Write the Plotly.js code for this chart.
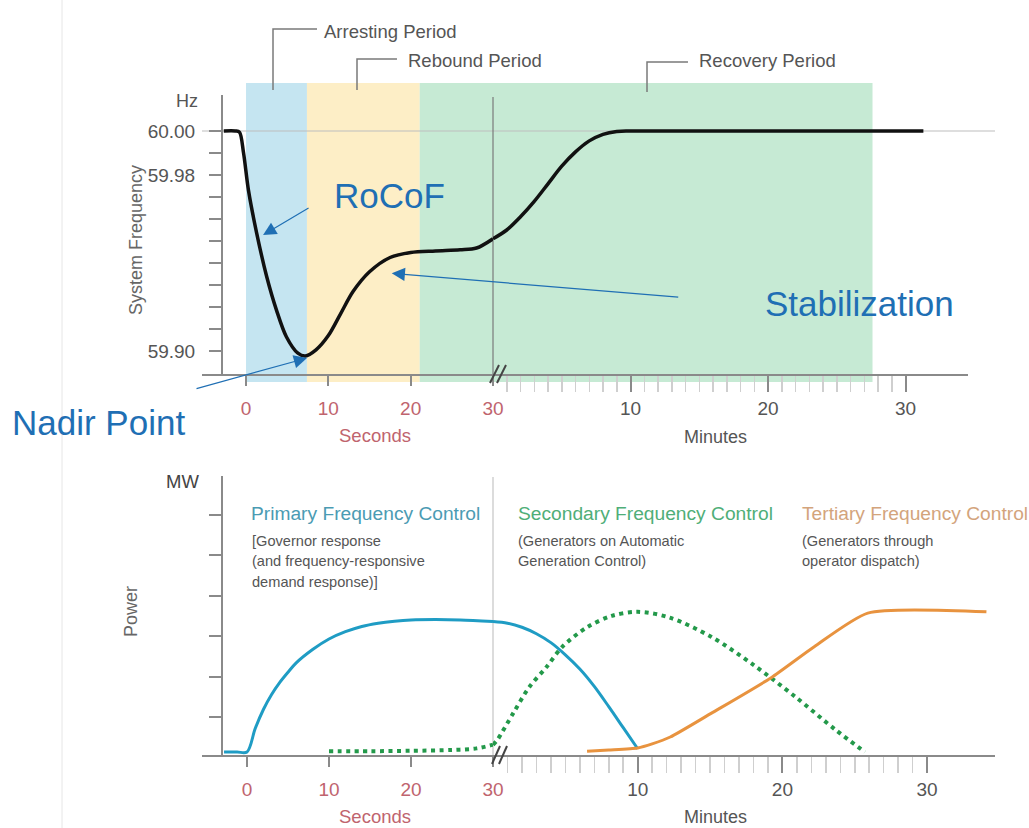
<!DOCTYPE html>
<html><head><meta charset="utf-8">
<script src="https://cdn.plot.ly/plotly-3.0.1.min.js"></script>
<style>html,body{margin:0;padding:0;background:#fff}#chart{width:1029px;height:828px}</style>
</head><body><div id="chart"></div>
<script>
// ---------- data ----------
// Top panel: system frequency (Hz)
const freqSecT = [-2.7, -1.3, -0.8, -0.3, 0.3, 1.3, 2.5, 3.7, 4.9, 6.3, 7.2, 8.5, 10, 11.5, 13, 15, 17.5, 20, 23, 26, 28, 30];
const freqSecF = [60.000, 60.000, 59.9995, 59.990, 59.973, 59.9535, 59.934, 59.9186, 59.9065, 59.899, 59.8977, 59.9005, 59.907, 59.917, 59.927, 59.936, 59.9425, 59.9448, 59.9455, 59.946, 59.9468, 59.951];
const freqMinT = [0, 1, 2, 3, 4, 5, 6, 7, 8, 9, 10, 20, 31.3];
const freqMinF = [59.951, 59.955, 59.961, 59.968, 59.976, 59.984, 59.9905, 59.9955, 59.9985, 59.9998, 60.000, 60.000, 60.000];

// Bottom panel: power (arbitrary MW units)
const primarySecT = [-2.8, -1.2, 0, 1, 2, 3, 4, 5, 6, 8, 10, 12, 14, 16, 18, 20, 23, 26, 30];
const primarySecV = [0, 0, 0, 0.58, 1.05, 1.42, 1.72, 1.97, 2.2, 2.53, 2.79, 2.97, 3.1, 3.18, 3.23, 3.26, 3.27, 3.26, 3.22];
const primaryMinT = [0, 1, 2, 3, 4, 5, 6, 7, 8, 9, 10];
const primaryMinV = [3.22, 3.18, 3.08, 2.92, 2.7, 2.4, 2.05, 1.62, 1.12, 0.6, 0.08];

const secondarySecT = [10, 15, 20, 25, 28, 30];
const secondarySecV = [0.02, 0.02, 0.03, 0.05, 0.09, 0.18];
const secondaryMinT = [0, 0.3, 1.4, 2.5, 3.7, 4.8, 6.5, 8.2, 10, 12.2, 15.1, 18, 20.9, 23.7, 25.7];
const secondaryMinV = [0.18, 0.3, 0.96, 1.6, 2.1, 2.6, 3.08, 3.36, 3.46, 3.32, 2.84, 2.15, 1.36, 0.54, 0];

const tertiaryMinT = [6.5, 8, 10, 11, 12.25, 15.1, 19.2, 22.2, 25.9, 34.1];
const tertiaryMinV = [0.02, 0.05, 0.1, 0.2, 0.37, 0.96, 1.83, 2.6, 3.43, 3.46];

// Shaded periods (seconds / minutes)
const arrestingSec = [0, 7.4];
const reboundSec = [7.4, 21.1];
const recoveryStartSec = 21.1;
const recoveryEndMin = 27.6;

// Tick labels
const secTicks = [0, 10, 20, 30];
const secTickText = ['0', '10', '20', '30'];
const minTicks = [10, 20, 30];
const minTickText = ['10', '20', '30'];
const freqTickVals = [59.90, 59.91, 59.92, 59.93, 59.94, 59.95, 59.96, 59.97, 59.98, 59.99, 60.00];
const freqTickText = ['59.90', '', '', '', '', '', '', '', '59.98', '', '60.00'];
const minorMinTicks = [];
for (let m = 1; m <= 29; m++) if (m % 10 !== 0) minorMinTicks.push(m);

// ---------- helpers ----------
const W = 1029, H = 828;
const PX = v => v / W, PY = v => 1 - v / H;
const FONT = '"Liberation Sans", Arial, Helvetica, sans-serif';
const GRAY = '#555555', AXIS = '#8a8a8a', RED = '#c0646e', BLUEANN = '#1f6fb4';
const C_BLUE = '#1f9cc4', C_GREEN = '#23994a', C_ORANGE = '#e8933f';

function pathPx(pts) {
  return pts.map((p, i) => (i ? 'L' : 'M') + PX(p[0]).toFixed(5) + ',' + PY(p[1]).toFixed(5)).join(' ');
}
function lineShape(pts, color, width) {
  return {type: 'path', xref: 'paper', yref: 'paper', path: pathPx(pts), line: {color: color, width: width}, layer: 'above'};
}
function txt(text, x, y, size, color, opts) {
  opts = opts || {};
  return Object.assign({text: text, xref: 'paper', yref: 'paper', x: PX(x), y: PY(y),
    xanchor: 'left', yanchor: 'middle', showarrow: false,
    font: {family: FONT, size: size, color: color}}, opts);
}

// ---------- traces ----------
const spl = {shape: 'spline', smoothing: 0.9};
const traces = [
  {x: freqSecT, y: freqSecF, xaxis: 'x', yaxis: 'y', mode: 'lines', line: Object.assign({color: '#111', width: 3.5}, spl)},
  {x: freqMinT, y: freqMinF, xaxis: 'x2', yaxis: 'y', mode: 'lines', line: Object.assign({color: '#111', width: 3.5}, spl)},
  {x: primarySecT, y: primarySecV, xaxis: 'x3', yaxis: 'y2', mode: 'lines', line: Object.assign({color: C_BLUE, width: 3}, spl)},
  {x: primaryMinT, y: primaryMinV, xaxis: 'x4', yaxis: 'y2', mode: 'lines', line: Object.assign({color: C_BLUE, width: 3}, spl)},
  {x: secondarySecT, y: secondarySecV, xaxis: 'x3', yaxis: 'y2', mode: 'lines', line: Object.assign({color: C_GREEN, width: 4, dash: '4px,4.5px'}, spl)},
  {x: secondaryMinT, y: secondaryMinV, xaxis: 'x4', yaxis: 'y2', mode: 'lines', line: Object.assign({color: C_GREEN, width: 4, dash: '4px,4.5px'}, spl)},
  {x: tertiaryMinT, y: tertiaryMinV, xaxis: 'x4', yaxis: 'y2', mode: 'lines', line: Object.assign({color: C_ORANGE, width: 3}, {shape: 'spline', smoothing: 0.6})}
];

// ---------- axes ----------
const tickFontRed = {family: FONT, size: 19, color: RED};
const tickFontGray = {family: FONT, size: 19, color: GRAY};
function secAxis(domain, range, anchor) {
  return {domain: domain, range: range, anchor: anchor, showline: true, linecolor: AXIS, linewidth: 2,
    ticks: 'outside', tickmode: 'array', tickvals: secTicks, ticktext: secTickText, ticklen: 10, tickwidth: 2, tickcolor: AXIS,
    tickfont: tickFontRed, ticklabelstandoff: 6, showgrid: false, zeroline: false, fixedrange: true, layer: 'below traces'};
}
function minAxis(domain, range, anchor) {
  return {domain: domain, range: range, anchor: anchor, showline: true, linecolor: AXIS, linewidth: 2,
    ticks: 'outside', tickmode: 'array', tickvals: minTicks, ticktext: minTickText, ticklen: 16, tickwidth: 2, tickcolor: AXIS,
    minor: {tickmode: 'array', tickvals: minorMinTicks, ticks: 'outside', ticklen: 16, tickwidth: 1.5, tickcolor: '#cfcfcf', showgrid: false},
    tickfont: tickFontGray, ticklabelstandoff: 0, showgrid: false, zeroline: false, fixedrange: true, layer: 'below traces'};
}

const layout = {
  width: W, height: H, margin: {l: 0, r: 0, t: 0, b: 0}, showlegend: false,
  paper_bgcolor: '#ffffff', plot_bgcolor: 'rgba(0,0,0,0)',
  xaxis: secAxis([PX(202), PX(493)], [(202 - 246) / 8.23, 30], 'y'),
  xaxis2: minAxis([PX(493), PX(968)], [0, (968 - 493) / 13.75], 'y'),
  xaxis3: secAxis([PX(202), PX(493)], [(202 - 247) / 8.2, 30], 'y2'),
  xaxis4: minAxis([PX(493), PX(995)], [0, (995 - 493) / 14.47], 'y2'),
  yaxis: {domain: [PY(374), PY(95)], range: [59.88955, 60.01636], anchor: 'free', position: PX(222),
    showline: true, linecolor: AXIS, linewidth: 2, ticks: 'outside', tickmode: 'array',
    tickvals: freqTickVals, ticktext: freqTickText, ticklen: 12, tickwidth: 2, tickcolor: AXIS,
    tickfont: tickFontGray, ticklabelstandoff: 10, showgrid: false, zeroline: false, fixedrange: true},
  yaxis2: {domain: [PY(755), PY(476)], range: [-3 / 40.5, (752 - 476) / 40.5], anchor: 'free', position: PX(222),
    showline: true, linecolor: AXIS, linewidth: 2, ticks: 'outside', tick0: -0.136, dtick: 1,
    ticklen: 12, tickwidth: 2, tickcolor: AXIS, showticklabels: false,
    showgrid: false, zeroline: false, fixedrange: true, layer: 'below traces'},
  shapes: [
    {type: 'rect', xref: 'x', yref: 'paper', x0: arrestingSec[0], x1: arrestingSec[1], y0: PY(382), y1: PY(83), fillcolor: '#c5e5f1', line: {width: 0}, layer: 'below'},
    {type: 'rect', xref: 'x', yref: 'paper', x0: reboundSec[0], x1: reboundSec[1], y0: PY(382), y1: PY(83), fillcolor: '#fdeec6', line: {width: 0}, layer: 'below'},
    {type: 'rect', xref: 'x', yref: 'paper', x0: recoveryStartSec, x1: 30.3, y0: PY(382), y1: PY(83), fillcolor: '#c6ead4', line: {width: 0}, layer: 'below'},
    {type: 'rect', xref: 'x2', yref: 'paper', x0: -0.2, x1: recoveryEndMin, y0: PY(382), y1: PY(83), fillcolor: '#c6ead4', line: {width: 0}, layer: 'below'},
    {type: 'line', xref: 'paper', yref: 'y', x0: PX(202), x1: PX(995), y0: 60, y1: 60, line: {color: '#bdbdbd', width: 1.2}, layer: 'below'},
    {type: 'line', xref: 'paper', yref: 'paper', x0: PX(493), x1: PX(493), y0: PY(374), y1: PY(97), line: {color: '#7a7a7a', width: 1.2}, layer: 'below'},
    {type: 'line', xref: 'paper', yref: 'paper', x0: PX(493), x1: PX(493), y0: PY(755), y1: PY(477), line: {color: '#d0d0d0', width: 1.5}, layer: 'below'},
    {type: 'line', xref: 'paper', yref: 'paper', x0: PX(62), x1: PX(62), y0: 0, y1: 1, line: {color: '#e6e6e6', width: 1}, layer: 'below'},
    lineShape([[273, 90], [273, 29], [317, 29]], '#7a7a7a', 1.5),
    lineShape([[357, 90], [357, 59], [397, 59]], '#7a7a7a', 1.5),
    lineShape([[647, 92], [647, 62], [688, 62]], '#7a7a7a', 1.5),
    lineShape([[490, 383], [499, 365]], '#444', 2),
    lineShape([[497, 383], [506, 365]], '#444', 2),
    lineShape([[492, 764], [500, 746]], '#444', 2),
    lineShape([[499, 764], [507, 746]], '#444', 2)
  ],
  annotations: [
    txt('Arresting Period', 322, 32, 18.5, GRAY),
    txt('Rebound Period', 406, 61, 18.5, GRAY),
    txt('Recovery Period', 697, 61, 18.5, GRAY),
    txt('Hz', 200, 101, 18, GRAY, {xanchor: 'right'}),
    txt('System Frequency', 136, 240, 18, '#666', {xanchor: 'center', textangle: -90}),
    txt('Seconds', 375, 435, 18.5, RED, {xanchor: 'center'}),
    txt('Minutes', 715, 437, 18, GRAY, {xanchor: 'center'}),
    txt('RoCoF', 332, 196, 35, BLUEANN),
    txt('Stabilization', 763, 303, 35, BLUEANN),
    txt('Nadir Point', 10, 422, 35, BLUEANN),
    {x: 2.07, y: 59.9527, xref: 'x', yref: 'y', ax: 47, ay: -28, text: '', showarrow: true, arrowhead: 2, arrowsize: 2.2, arrowwidth: 1.2, arrowcolor: BLUEANN, standoff: 0},
    {x: 17.7, y: 59.9353, xref: 'x', yref: 'y', ax: 288, ay: 24, text: '', showarrow: true, arrowhead: 2, arrowsize: 2.2, arrowwidth: 1.2, arrowcolor: BLUEANN, standoff: 0},
    {x: 7.41, y: 59.8968, xref: 'x', yref: 'y', ax: -112, ay: 31, text: '', showarrow: true, arrowhead: 2, arrowsize: 2.2, arrowwidth: 1.2, arrowcolor: BLUEANN, standoff: 0},

    txt('MW', 201, 481, 18.5, '#444', {xanchor: 'right'}),
    txt('Power', 131, 612, 18, '#666', {xanchor: 'center', textangle: -90}),
    txt('Primary Frequency Control', 249, 513, 19.2, '#4b9bb3'),
    txt('[Governor response', 250, 541, 14.6, GRAY),
    txt('(and frequency-responsive', 250, 561, 14.6, GRAY),
    txt('demand response)]', 250, 582, 14.6, GRAY),
    txt('Secondary Frequency Control', 516, 513, 19.2, '#4fae78'),
    txt('(Generators on Automatic', 516, 541, 14.6, GRAY),
    txt('Generation Control)', 516, 561, 14.6, GRAY),
    txt('Tertiary Frequency Control', 800, 513, 19.2, '#d3a47c'),
    txt('(Generators through', 800, 541, 14.6, GRAY),
    txt('operator dispatch)', 800, 561, 14.6, GRAY),
    txt('Seconds', 375, 816, 18.5, RED, {xanchor: 'center'}),
    txt('Minutes', 715, 817, 18, GRAY, {xanchor: 'center'})
  ]
};

Plotly.newPlot('chart', traces, layout, {staticPlot: true, displayModeBar: false});
</script>
</body></html>
